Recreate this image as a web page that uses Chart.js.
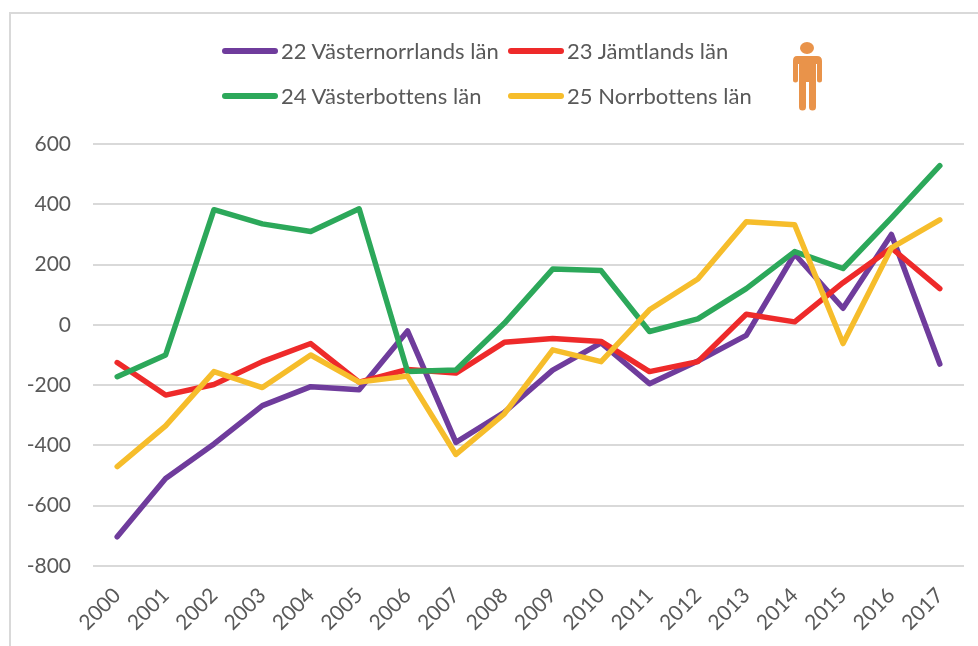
<!DOCTYPE html>
<html lang="en">
<head>
    <meta charset="UTF-8">
    <title>Västernorrland, Jämtland, Västerbotten, Norrbotten</title>
    <script src="https://cdn.jsdelivr.net/npm/chart.js"></script>
    <style>
        html, body { margin: 0; background: #fff; overflow: hidden; }
        #wrap { position: relative; width: 978px; height: 646px; font-family: Lato, sans-serif; }
        #frame { position: absolute; left: 9px; top: 12px; right: 0; bottom: 0; border-left: 2px solid #d9d9d9; border-top: 2px solid #d9d9d9; }
        canvas { position: absolute; left: 0; top: 0; }
        .key { position: absolute; height: 32px; line-height: 32px; font-size: 22px; letter-spacing: 0.05px; color: #595959; white-space: nowrap; }
        .key i { position: absolute; left: 0; top: 13px; width: 56px; height: 6px; border-radius: 3px; }
        .key span { position: absolute; left: 59px; }
        #person { position: absolute; left: 791px; top: 41px; }
    </style>
</head>
<body>
    <div id="wrap">
        <div id="frame"></div>
        <canvas id="chart" width="978" height="646"></canvas>
        <div id="legend"></div>
        <svg id="person" width="33" height="71" viewBox="0 0 33 71">
            <ellipse cx="16" cy="7" rx="7" ry="6" fill="#e9934a"/>
            <path d="M6 15 H26 Q31 15 31 20 V39 a2.5 2.5 0 0 1 -5 0 V23 H25 V66 a3.5 3.5 0 0 1 -7 0 V41 H15 V66 a3.5 3.5 0 0 1 -7 0 V23 H7 V39 a2.5 2.5 0 0 1 -5 0 V20 Q2 15 6 15 Z" fill="#e9934a"/>
        </svg>
    </div>

    <script>
        const years = ['2000', '2001', '2002', '2003', '2004', '2005', '2006', '2007', '2008', '2009', '2010', '2011', '2012', '2013', '2014', '2015', '2016', '2017'];
        const vasternorrland = [-703, -510, -395, -268, -205, -215, -20, -390, -290, -150, -60, -195, -120, -35, 235, 55, 300, -130];
        const jamtland = [-125, -233, -198, -122, -62, -190, -148, -160, -58, -45, -55, -155, -122, 35, 10, 140, 255, 120];
        const vasterbotten = [-172, -100, 382, 335, 310, 385, -155, -150, 5, 185, 180, -22, 20, 120, 243, 187, 355, 528];
        const norrbotten = [-470, -335, -155, -208, -100, -190, -170, -430, -295, -83, -122, 50, 152, 342, 332, -62, 255, 348];

        const series = [
            { label: '22 Västernorrlands län', color: '#6f3c9c', data: vasternorrland, x: 222, y: 35 },
            { label: '23 Jämtlands län', color: '#ee2a2a', data: jamtland, x: 508, y: 35 },
            { label: '24 Västerbottens län', color: '#2ca85a', data: vasterbotten, x: 222, y: 80 },
            { label: '25 Norrbottens län', color: '#f6bd2b', data: norrbotten, x: 508, y: 80 }
        ];

        // legend is two aligned rows, easier as plain html
        document.getElementById('legend').innerHTML = series.map(s =>
            `<div class="key" style="left:${s.x}px;top:${s.y}px"><i style="background:${s.color}"></i><span>${s.label}</span></div>`
        ).join('');

        new Chart(document.getElementById('chart').getContext('2d'), {
            type: 'line',
            data: {
                labels: years,
                datasets: series.map((s, i) => ({
                    label: s.label,
                    data: s.data,
                    borderColor: s.color,
                    borderWidth: 5.5,
                    borderJoinStyle: 'round',
                    borderCapStyle: 'round',
                    pointRadius: 0,
                    tension: 0,
                    clip: false,
                    order: series.length - i // later series on top
                }))
            },
            options: {
                responsive: false,
                animation: false,
                layout: { padding: { top: 144, right: 14 } },
                plugins: { legend: { display: false }, tooltip: { enabled: false } },
                scales: {
                    x: {
                        offset: true,
                        grid: { display: false },
                        border: { display: false },
                        afterFit: axis => { axis.height = 80; },
                        ticks: { color: '#595959', font: { family: 'Lato', size: 21 }, minRotation: 45, maxRotation: 45, padding: 9, autoSkip: false }
                    },
                    y: {
                        min: -800,
                        max: 600,
                        grid: { color: '#d9d9d9', lineWidth: 2, drawTicks: false },
                        border: { display: false },
                        afterFit: axis => { axis.width = 93; },
                        ticks: { stepSize: 200, color: '#595959', font: { family: 'Lato', size: 21 }, padding: 22 }
                    }
                }
            }
        });
    </script>
</body>
</html>
